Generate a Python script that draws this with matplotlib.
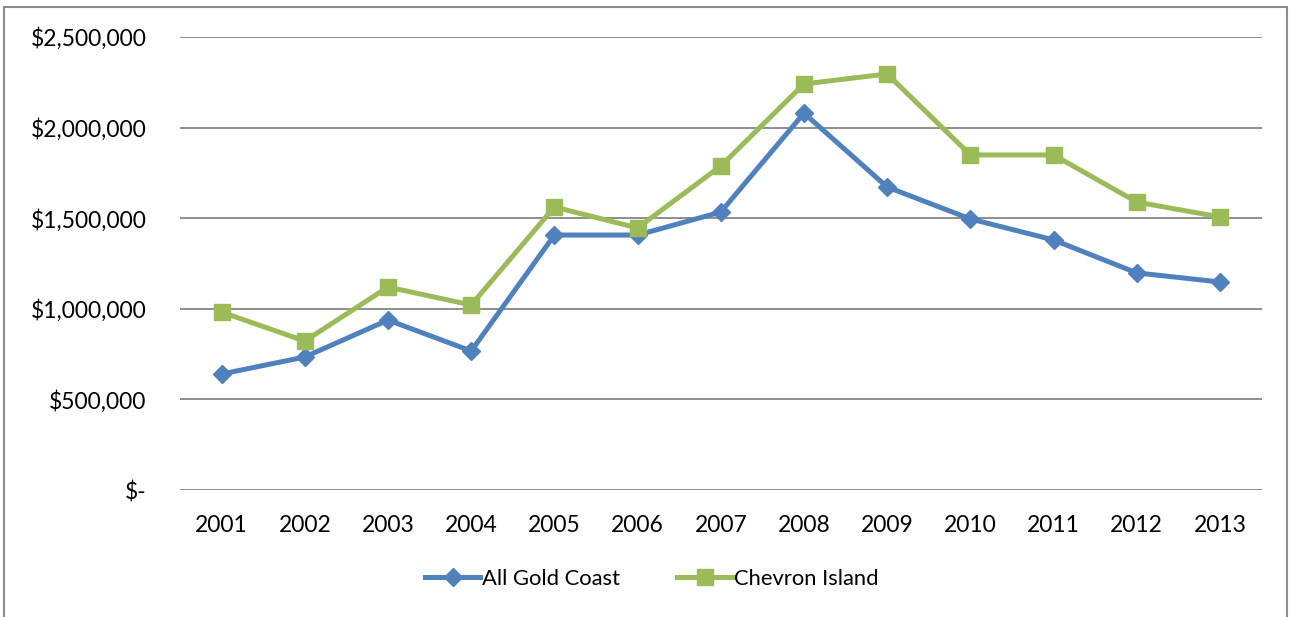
import matplotlib
matplotlib.use("Agg")
import matplotlib.pyplot as plt
from matplotlib.patches import Rectangle
from matplotlib.ticker import FuncFormatter

years = ["2001", "2002", "2003", "2004", "2005", "2006", "2007",
         "2008", "2009", "2010", "2011", "2012", "2013"]
gold_coast = [640000, 734000, 938000, 767000, 1407000, 1407000, 1534000,
              2080000, 1672000, 1496000, 1380000, 1198000, 1148000]
chevron_island = [982000, 822000, 1120000, 1021000, 1562000, 1446000, 1788000,
                  2241000, 2296000, 1849000, 1849000, 1589000, 1507000]
y_ticks = [0, 500000, 1000000, 1500000, 2000000, 2500000]

plt.rcParams['font.family'] = ['Lato', 'DejaVu Sans']

fig = plt.figure(figsize=(12.9, 6.17), dpi=100)
ax = fig.add_axes([180/1290, 1-490/617, (1261.6-180)/1290, (490-37)/617])

x = list(range(len(years)))
ax.plot(x, gold_coast, color="#4F81BD", lw=3.6, marker="D", ms=9,
        label="All Gold Coast", zorder=3)
ax.plot(x, chevron_island, color="#9BBB59", lw=3.6, marker="s", ms=12,
        label="Chevron Island", zorder=3)

ax.set_xlim(-0.5, len(years) - 0.5)
ax.set_ylim(0, 2500000)
ax.set_yticks(y_ticks)

def fmt(v, pos):
    if v == 0:
        return "$-"
    return "${:,.0f}".format(v)
ax.yaxis.set_major_formatter(FuncFormatter(fmt))
ax.set_xticks(x)
ax.set_xticklabels(years)
ax.tick_params(axis="both", length=0, labelsize=16.5, colors="black")
ax.tick_params(axis="y", pad=24)
ax.tick_params(axis="x", pad=18)
ax.grid(axis="y", color="#868686", lw=1.3)
ax.set_axisbelow(True)
for s in ["top", "right", "left", "bottom"]:
    ax.spines[s].set_visible(False)

fig.patches.append(Rectangle((4/1290, -0.05), (1287-4)/1290, 1.05 - 7/617,
                             transform=fig.transFigure, fill=False,
                             edgecolor="#8c8c8c", lw=1.5))

fig.legend(loc="center", bbox_to_anchor=(652/1290, 1-579/617), ncol=2,
           frameon=False, fontsize=15.8, handlelength=2.5, columnspacing=2.6,
           handletextpad=0.1)

fig.savefig("out.png", dpi=100)
